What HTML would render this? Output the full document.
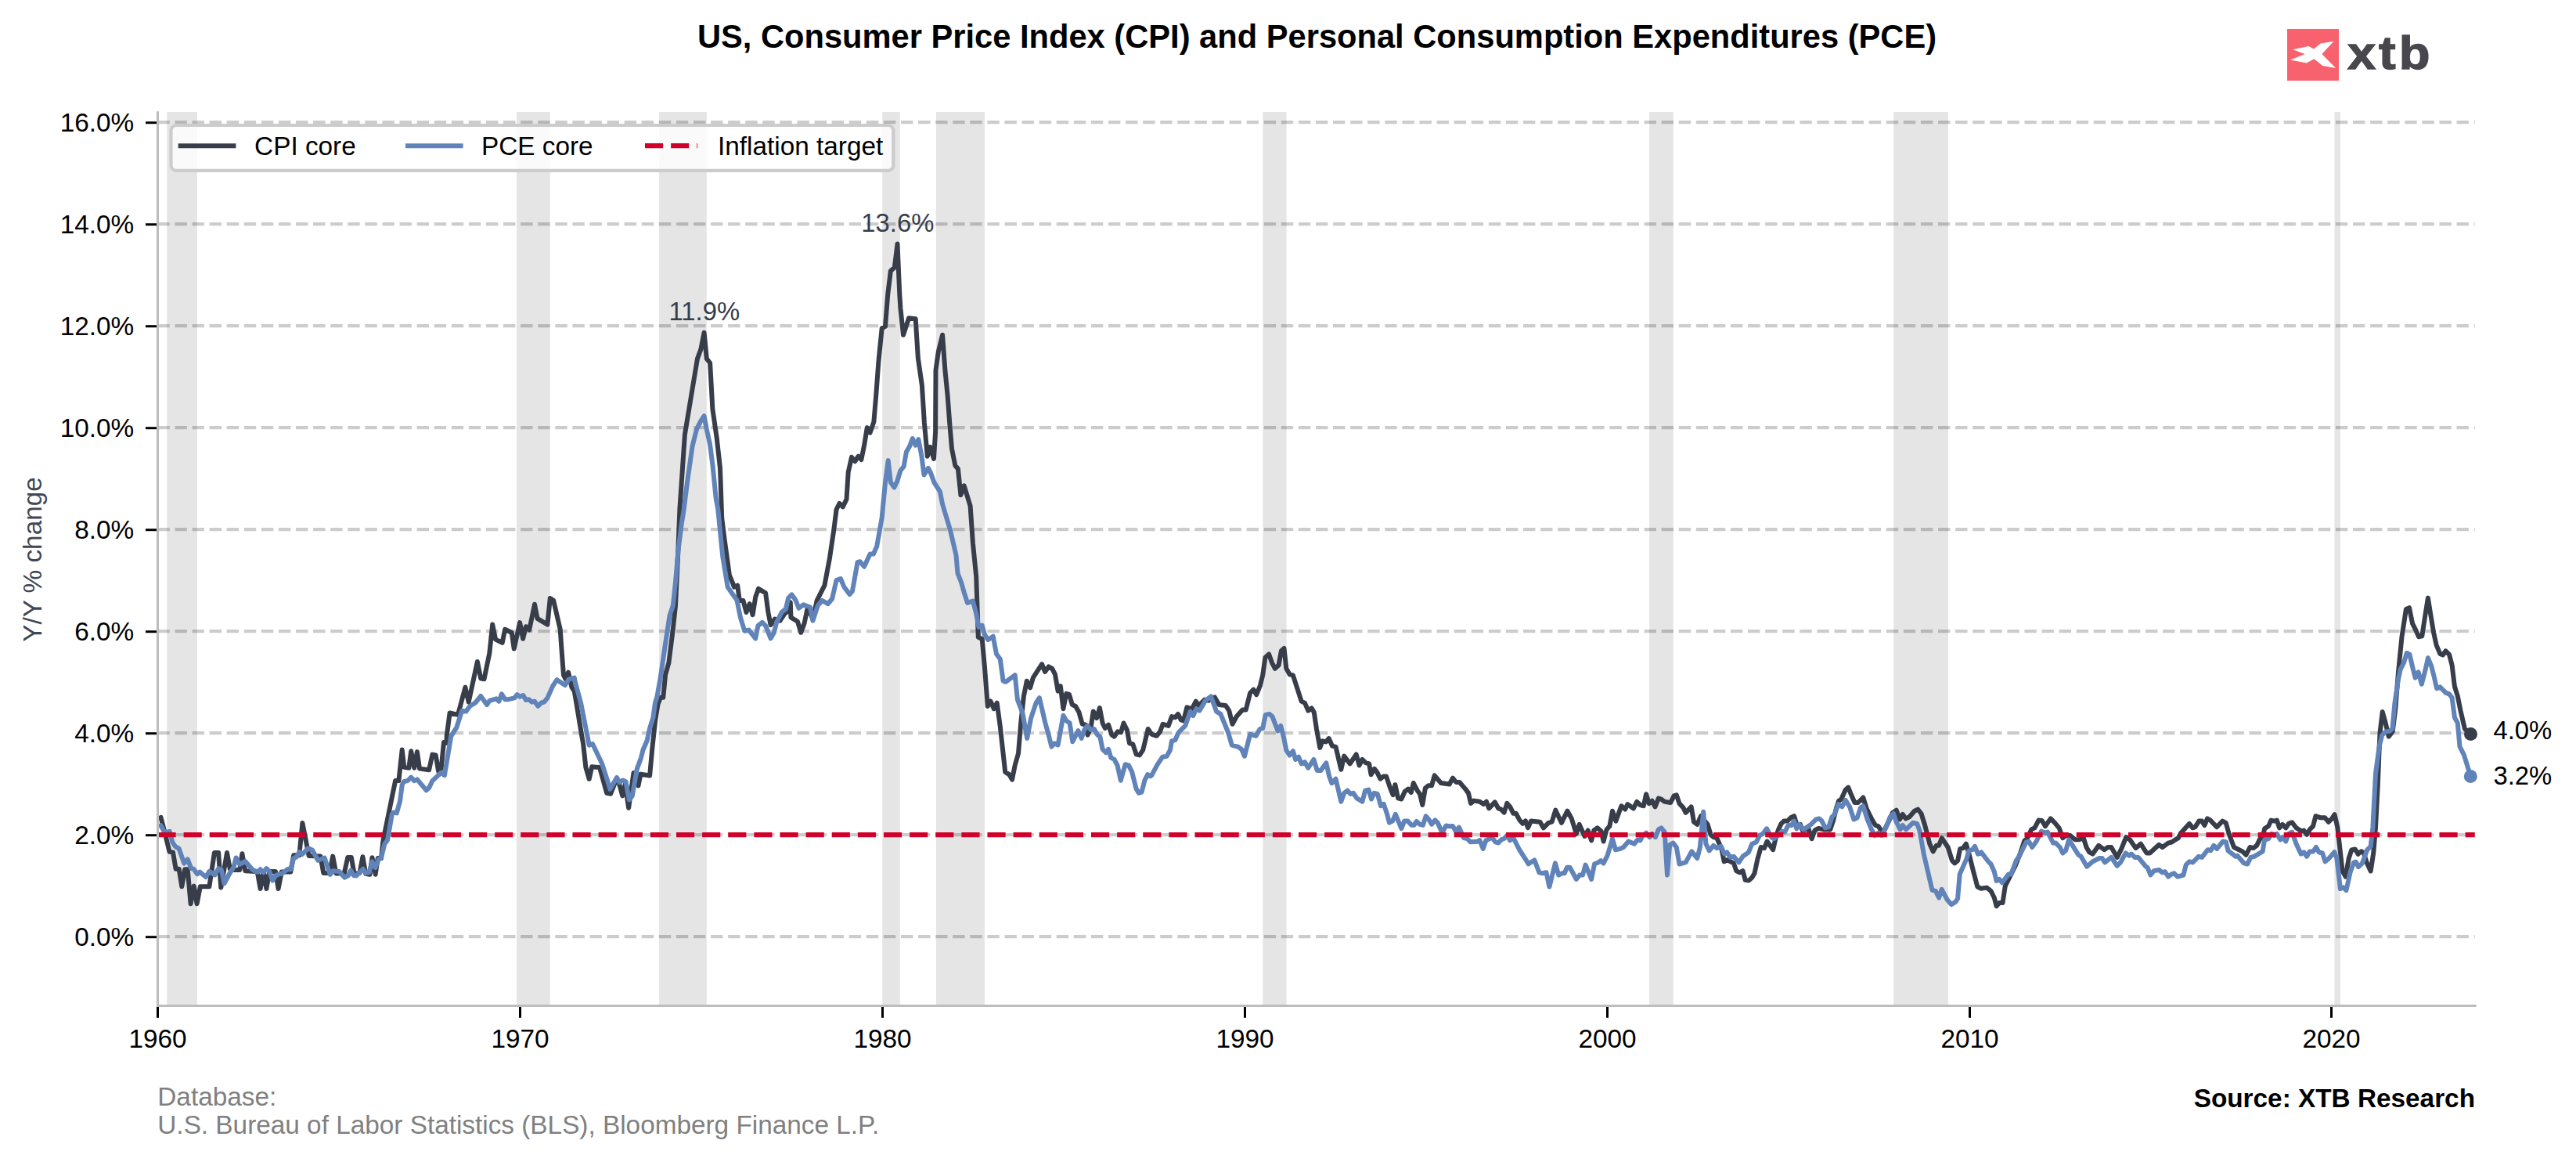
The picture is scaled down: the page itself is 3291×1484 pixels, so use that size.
<!DOCTYPE html>
<html><head><meta charset="utf-8"><title>US CPI and PCE</title>
<style>html,body{margin:0;padding:0;background:#fff}svg{display:block}</style></head>
<body>
<svg width="3291" height="1484" viewBox="0 0 3291 1484" font-family="&quot;Liberation Sans&quot;, Arial, sans-serif">
<rect width="3291" height="1484" fill="#fff"/>
<rect x="213.2" y="143" width="38.7" height="1141.5" fill="#e5e5e5"/>
<rect x="660.0" y="143" width="42.7" height="1141.5" fill="#e5e5e5"/>
<rect x="842.1" y="143" width="60.7" height="1141.5" fill="#e5e5e5"/>
<rect x="1127.2" y="143" width="22.6" height="1141.5" fill="#e5e5e5"/>
<rect x="1196.0" y="143" width="61.9" height="1141.5" fill="#e5e5e5"/>
<rect x="1613.4" y="143" width="30.2" height="1141.5" fill="#e5e5e5"/>
<rect x="2107.1" y="143" width="30.7" height="1141.5" fill="#e5e5e5"/>
<rect x="2419.2" y="143" width="69.7" height="1141.5" fill="#e5e5e5"/>
<rect x="2982.4" y="143" width="7.4" height="1141.5" fill="#e5e5e5"/>
<line x1="201.35" y1="1196.2" x2="3161.7" y2="1196.2" stroke="#000" stroke-opacity="0.2" stroke-width="4.17" stroke-dasharray="15.417 6.667"/>
<line x1="201.35" y1="1066.2" x2="3161.7" y2="1066.2" stroke="#000" stroke-opacity="0.2" stroke-width="4.17" stroke-dasharray="15.417 6.667"/>
<line x1="201.35" y1="936.2" x2="3161.7" y2="936.2" stroke="#000" stroke-opacity="0.2" stroke-width="4.17" stroke-dasharray="15.417 6.667"/>
<line x1="201.35" y1="806.2" x2="3161.7" y2="806.2" stroke="#000" stroke-opacity="0.2" stroke-width="4.17" stroke-dasharray="15.417 6.667"/>
<line x1="201.35" y1="676.2" x2="3161.7" y2="676.2" stroke="#000" stroke-opacity="0.2" stroke-width="4.17" stroke-dasharray="15.417 6.667"/>
<line x1="201.35" y1="546.2" x2="3161.7" y2="546.2" stroke="#000" stroke-opacity="0.2" stroke-width="4.17" stroke-dasharray="15.417 6.667"/>
<line x1="201.35" y1="416.2" x2="3161.7" y2="416.2" stroke="#000" stroke-opacity="0.2" stroke-width="4.17" stroke-dasharray="15.417 6.667"/>
<line x1="201.35" y1="286.2" x2="3161.7" y2="286.2" stroke="#000" stroke-opacity="0.2" stroke-width="4.17" stroke-dasharray="15.417 6.667"/>
<line x1="201.35" y1="156.2" x2="3161.7" y2="156.2" stroke="#000" stroke-opacity="0.2" stroke-width="4.17" stroke-dasharray="15.417 6.667"/>
<polyline points="205.5,1043.9 209.4,1058.7 213.2,1074.2 216.5,1087.8 221.0,1088.4 224.6,1109.7 228.7,1109.7 232.3,1132.3 236.2,1110.3 239.7,1110.3 243.6,1154.2 247.7,1131.6 251.6,1154.2 255.8,1132.3 267.4,1132.3 273.9,1089.0 279.1,1089.0 282.3,1133.6 290.0,1089.0 293.9,1110.3 297.8,1111.0 306.2,1111.0 309.4,1090.3 313.3,1112.3 328.7,1112.9 332.6,1134.9 336.5,1112.9 340.4,1134.9 344.2,1112.9 352.0,1112.9 355.6,1134.9 359.7,1113.6 371.3,1113.6 375.2,1092.3 382.3,1092.3 386.4,1051.0 394.6,1092.9 409.4,1093.6 413.3,1114.9 421.0,1114.9 425.2,1093.6 429.4,1115.5 439.7,1115.5 444.3,1094.9 448.8,1094.9 452.6,1116.2 459.5,1115.0 463.4,1094.3 467.2,1115.9 472.4,1116.7 475.5,1095.2 479.6,1116.7 482.7,1096.1 487.0,1096.1 489.6,1072.8 505.1,997.1 509.4,997.1 513.7,957.5 516.3,979.9 522.3,980.8 525.2,959.3 529.2,980.8 532.9,960.1 536.0,981.6 548.1,983.3 552.4,963.6 556.7,964.4 560.1,985.1 563.6,981.6 567.0,948.1 570.5,948.9 570.7,940.0 574.6,910.4 585.0,912.9 594.4,877.7 598.7,896.6 609.9,845.0 614.2,866.5 618.5,867.3 625.4,833.8 629.2,797.6 633.1,816.6 641.7,820.9 645.2,803.7 653.8,808.0 656.7,828.6 664.1,795.1 668.1,815.7 671.9,800.2 676.2,804.5 683.0,771.8 686.5,789.9 699.4,797.6 702.8,764.1 707.1,766.7 715.7,803.7 717.5,829.5 720.0,862.2 722.6,867.3 726.1,858.7 730.4,877.7 733.8,882.8 743.3,940.0 745.0,949.2 748.4,980.1 752.7,994.8 756.1,979.3 766.1,980.1 775.1,1012.8 780.2,1013.7 788.0,993.9 790.6,999.1 795.2,1016.3 798.8,1001.6 803.1,1031.8 809.5,987.0 815.5,1003.4 818.4,988.7 830.1,990.5 833.6,952.6 837.0,921.6 840.5,899.3 843.9,890.7 847.3,890.7 850.1,861.6 854.4,846.5 859.8,803.5 863.0,773.4 866.3,704.5 868.4,650.0 874.9,554.9 881.3,516.2 891.0,458.1 895.3,446.3 899.6,424.7 902.8,458.1 907.1,463.5 910.4,522.6 915.7,559.2 920.0,597.9 922.2,661.5 925.4,687.3 931.9,734.7 935.1,742.2 937.9,749.7 942.2,747.6 944.8,766.9 949.5,766.9 953.4,782.0 957.7,771.2 961.6,785.2 965.2,762.6 968.9,751.9 978.1,757.3 981.4,782.0 984.6,798.1 990.0,790.6 996.4,792.7 1002.9,783.1 1008.2,779.8 1009.8,769.1 1010.4,788.4 1019.0,793.8 1023.3,807.8 1027.6,796.0 1031.9,775.5 1038.4,790.6 1043.7,766.9 1053.4,747.6 1059.9,713.1 1065.3,676.6 1068.6,650.5 1072.5,642.9 1076.8,647.3 1081.5,637.6 1083.7,603.1 1088.0,583.8 1092.3,589.2 1096.6,582.7 1100.4,587.0 1104.1,568.7 1107.8,546.1 1111.6,552.6 1116.4,538.6 1119.2,505.1 1122.4,462.1 1126.7,419.1 1131.0,416.9 1134.2,376.1 1137.9,345.9 1142.8,341.6 1146.5,311.5 1149.3,376.1 1150.4,393.3 1154.0,427.7 1161.1,406.2 1169.7,407.3 1172.9,457.8 1177.9,492.2 1180.9,540.0 1184.8,582.7 1188.4,570.9 1193.0,585.9 1195.1,551.5 1195.5,472.9 1198.8,449.2 1204.1,427.7 1207.4,472.9 1210.6,505.1 1213.2,540.0 1216.0,573.0 1220.3,594.5 1223.9,598.8 1227.4,632.2 1231.7,620.4 1239.6,646.2 1242.9,693.5 1247.2,736.5 1249.8,813.8 1254.7,815.9 1258.0,852.5 1261.8,902.0 1265.5,895.5 1269.8,905.2 1273.7,897.7 1277.8,927.8 1284.2,985.9 1289.2,989.1 1293.0,995.6 1296.7,977.3 1301.0,962.2 1304.2,923.5 1307.9,889.1 1311.8,869.7 1316.1,878.3 1319.9,865.4 1331.1,848.2 1335.0,857.9 1339.7,851.4 1344.0,853.6 1347.9,861.1 1351.6,882.6 1354.8,876.2 1358.4,905.2 1362.3,885.9 1366.0,886.9 1369.8,899.8 1374.1,902.0 1378.4,909.5 1382.7,924.6 1387.1,925.7 1389.6,938.6 1393.5,930.0 1396.7,908.4 1401.0,917.1 1404.9,904.1 1408.6,923.5 1411.8,930.0 1416.1,925.7 1420.4,938.6 1423.6,940.7 1427.9,934.3 1432.2,935.3 1435.5,923.5 1439.8,932.1 1443.0,949.3 1447.3,950.4 1451.6,963.3 1455.9,964.4 1460.2,957.9 1466.7,931.0 1471.2,937.7 1477.6,939.8 1482.0,934.5 1485.6,924.8 1492.7,926.9 1497.0,915.1 1501.3,916.2 1505.0,911.9 1508.8,919.4 1512.1,920.5 1516.4,903.3 1522.8,905.4 1527.8,895.7 1531.4,901.1 1539.0,893.6 1544.3,894.7 1551.9,890.4 1557.3,900.0 1565.9,901.1 1570.2,907.6 1574.5,924.8 1579.8,915.1 1587.4,906.5 1591.7,906.5 1597.1,885.0 1601.4,880.7 1605.2,887.1 1610.0,875.3 1613.2,862.4 1616.4,839.8 1621.1,835.5 1625.0,846.3 1628.9,853.8 1633.6,849.5 1636.9,831.2 1640.5,828.0 1643.3,853.8 1647.6,861.3 1651.9,862.4 1662.7,895.7 1667.0,897.9 1671.3,907.6 1675.6,904.3 1678.8,909.7 1682.0,931.2 1686.3,954.9 1689.6,946.3 1693.9,947.4 1697.7,943.1 1702.0,952.7 1706.5,953.8 1713.3,982.8 1717.2,965.6 1724.7,975.3 1732.7,963.5 1736.6,977.5 1740.4,969.9 1744.7,974.2 1749.1,975.3 1751.6,989.3 1755.9,981.8 1759.2,986.1 1763.5,994.7 1767.8,991.4 1771.0,991.4 1775.7,1005.4 1779.6,1015.1 1782.4,1002.2 1786.1,1019.4 1790.4,1020.5 1794.7,1010.8 1799.0,1007.6 1802.8,1011.9 1805.8,1000.0 1810.8,1009.7 1814.0,1014.0 1817.3,1028.0 1820.9,1006.5 1824.8,1003.3 1829.1,1003.3 1832.7,990.4 1840.9,1000.0 1851.7,1001.5 1856.0,993.6 1860.3,999.0 1864.6,999.0 1872.1,1007.6 1876.0,1012.9 1879.0,1025.9 1882.9,1022.6 1890.4,1023.7 1895.3,1026.9 1899.0,1023.7 1902.2,1032.3 1909.8,1024.4 1914.1,1032.3 1917.3,1033.4 1921.6,1037.7 1925.3,1025.9 1929.1,1030.2 1933.4,1038.8 1936.7,1038.8 1941.4,1047.4 1945.3,1051.7 1948.9,1048.4 1952.1,1057.1 1956.0,1048.4 1967.5,1049.7 1971.8,1057.3 1978.3,1050.8 1982.6,1049.7 1987.3,1034.7 1994.9,1050.8 2002.4,1035.7 2007.8,1045.4 2013.8,1064.8 2017.7,1052.9 2024.5,1068.0 2028.8,1060.5 2033.1,1073.4 2036.4,1060.5 2040.7,1057.3 2045.6,1061.6 2048.6,1074.5 2052.5,1059.4 2056.4,1055.1 2060.0,1035.7 2064.3,1048.6 2071.4,1029.3 2076.2,1033.6 2079.4,1027.1 2086.9,1032.5 2091.2,1023.9 2095.5,1028.2 2099.8,1029.3 2103.1,1014.2 2106.7,1026.1 2110.6,1022.8 2114.5,1030.4 2118.8,1019.6 2122.4,1020.7 2126.7,1023.9 2134.3,1025.0 2138.6,1016.4 2141.8,1015.3 2145.5,1026.1 2150.4,1031.4 2153.6,1037.9 2160.7,1030.4 2164.0,1049.7 2168.3,1052.9 2173.0,1042.2 2177.3,1047.6 2181.6,1052.9 2185.5,1065.9 2189.1,1069.1 2193.4,1070.2 2196.7,1077.7 2199.9,1086.3 2202.7,1100.3 2207.0,1098.1 2210.6,1100.3 2214.9,1102.4 2218.2,1112.1 2222.5,1114.3 2226.5,1112.1 2229.7,1123.9 2234.0,1124.6 2238.3,1120.7 2241.5,1115.3 2245.4,1097.1 2249.7,1082.0 2254.0,1083.1 2257.6,1074.5 2265.2,1085.2 2268.4,1071.2 2271.6,1060.5 2275.5,1051.9 2279.2,1048.6 2283.5,1048.6 2287.8,1044.3 2292.1,1042.2 2295.7,1054.0 2300.0,1052.9 2302.8,1060.5 2310.4,1058.3 2314.7,1071.2 2318.5,1060.5 2323.3,1057.9 2329.7,1059.4 2338.3,1059.4 2342.2,1047.6 2345.9,1032.5 2349.1,1022.8 2352.3,1020.7 2357.7,1008.8 2361.3,1005.6 2365.2,1015.3 2369.5,1025.0 2373.8,1025.0 2380.3,1018.5 2384.6,1032.5 2387.8,1039.0 2392.1,1047.6 2396.0,1054.0 2399.6,1055.1 2403.9,1061.6 2407.2,1060.5 2413.6,1047.6 2417.9,1037.9 2422.7,1034.7 2427.0,1046.5 2430.8,1040.0 2434.7,1045.4 2439.4,1043.3 2445.9,1035.7 2450.2,1033.6 2454.5,1039.0 2459.2,1054.0 2465.3,1077.7 2469.6,1087.4 2473.9,1079.8 2477.1,1079.8 2480.7,1070.2 2488.6,1082.0 2494.0,1099.2 2497.2,1102.4 2501.1,1099.2 2504.1,1084.1 2508.0,1083.1 2511.8,1077.7 2515.5,1090.6 2520.9,1112.1 2526.3,1132.5 2530.6,1134.7 2538.1,1133.6 2543.5,1137.9 2547.8,1146.5 2550.6,1157.3 2554.2,1153.0 2558.5,1153.0 2561.8,1131.5 2568.2,1118.6 2574.7,1105.7 2581.1,1089.5 2586.5,1073.4 2589.7,1071.2 2595.1,1059.4 2599.4,1057.3 2604.4,1047.6 2608.7,1048.0 2613.0,1055.1 2619.8,1045.4 2625.2,1050.8 2630.6,1057.3 2635.3,1070.2 2639.2,1066.9 2644.6,1066.9 2651.0,1072.3 2656.4,1072.3 2661.8,1070.2 2665.5,1082.0 2669.3,1088.4 2673.6,1090.6 2681.2,1079.8 2688.3,1085.2 2693.0,1082.0 2697.3,1082.0 2704.8,1094.9 2710.2,1084.1 2716.2,1069.1 2721.0,1072.3 2728.5,1083.1 2734.9,1077.7 2742.5,1089.5 2746.5,1089.5 2758.3,1078.8 2762.6,1082.0 2770.1,1076.6 2774.4,1075.5 2777.6,1073.4 2783.0,1070.2 2786.3,1063.7 2797.0,1051.9 2801.3,1057.3 2804.5,1056.2 2809.3,1048.6 2813.1,1048.6 2816.4,1054.0 2820.0,1045.4 2823.9,1047.6 2832.1,1056.2 2839.4,1048.6 2843.7,1050.8 2847.6,1064.8 2854.0,1082.0 2860.5,1085.2 2864.8,1087.4 2869.5,1091.7 2874.5,1082.0 2878.8,1083.1 2883.1,1079.8 2887.4,1071.2 2890.6,1069.1 2893.2,1058.3 2898.1,1055.1 2901.4,1047.6 2905.7,1048.6 2908.9,1047.6 2912.1,1057.3 2916.0,1052.9 2920.3,1057.3 2923.9,1051.9 2928.2,1050.2 2933.6,1057.3 2940.1,1061.6 2943.3,1060.5 2947.0,1065.9 2950.8,1059.4 2955.1,1055.1 2958.4,1042.2 2964.8,1044.3 2970.2,1044.3 2974.9,1049.7 2979.0,1045.6 2982.6,1040.2 2986.3,1056.5 2989.0,1080.0 2992.6,1112.5 2996.7,1119.7 3000.7,1096.2 3004.3,1085.4 3008.8,1084.5 3012.5,1090.8 3016.6,1087.2 3019.7,1089.0 3023.3,1100.7 3028.7,1112.5 3032.3,1089.0 3035.0,1056.5 3037.8,1002.3 3039.6,957.1 3040.5,936.1 3043.7,909.0 3047.7,923.4 3051.7,940.6 3056.7,934.3 3060.3,905.4 3064.0,858.4 3068.5,813.2 3073.9,778.0 3078.0,776.2 3082.0,796.1 3085.6,803.3 3090.1,813.2 3094.3,812.3 3098.3,786.1 3101.9,763.6 3105.5,786.1 3109.1,807.8 3112.7,824.1 3117.3,834.9 3120.9,836.4 3124.5,831.3 3129.0,835.8 3132.6,849.4 3135.9,876.5 3139.8,889.1 3143.4,907.2 3148.9,930.7 3156.5,937.4" fill="none" stroke="#383d4a" stroke-width="6.0" stroke-linejoin="round" stroke-linecap="round"/>
<polyline points="205.5,1054.2 209.4,1061.3 212.6,1063.2 216.7,1061.9 220.3,1075.5 223.6,1080.7 228.7,1083.9 235.2,1102.6 239.7,1097.4 244.2,1109.1 247.4,1109.7 252.0,1116.2 255.2,1113.6 262.9,1120.0 267.4,1112.9 274.5,1117.4 279.1,1109.1 282.9,1111.0 286.5,1128.4 293.3,1115.5 298.4,1107.8 301.6,1095.5 306.2,1103.9 313.3,1100.0 322.9,1111.0 329.4,1113.6 332.6,1110.3 336.5,1114.2 340.4,1109.1 344.2,1112.9 348.1,1124.5 352.6,1118.1 356.5,1116.2 360.4,1115.5 368.1,1109.7 371.3,1110.3 375.2,1096.1 379.1,1094.2 382.6,1087.8 386.2,1091.0 393.9,1083.2 399.1,1085.8 406.2,1098.7 414.6,1095.5 421.7,1116.8 425.5,1112.3 433.3,1112.9 440.4,1120.7 444.9,1118.1 448.1,1111.6 452.0,1118.1 455.2,1118.4 463.8,1109.8 467.2,1115.0 471.5,1114.1 475.5,1100.4 479.6,1108.1 483.6,1097.8 487.0,1095.2 491.3,1078.0 495.1,1072.8 500.8,1040.1 503.0,1037.6 506.8,1038.4 511.1,1022.9 513.7,1002.3 516.3,998.0 520.6,997.1 525.2,992.8 529.2,997.1 532.9,995.4 544.6,1009.2 548.4,1005.7 552.4,997.1 563.6,986.8 567.9,990.2 570.5,974.7 576.3,940.0 583.2,929.3 590.1,907.8 595.3,908.6 600.4,901.8 607.3,897.5 614.2,888.9 622.0,900.0 625.4,894.9 634.0,892.3 637.4,895.7 640.9,886.3 645.2,893.2 649.5,893.2 657.2,891.4 660.7,887.1 664.1,889.7 668.4,888.0 671.9,894.0 675.3,893.2 679.6,896.6 683.0,895.7 687.3,901.8 691.6,897.5 695.1,896.6 699.4,891.4 706.3,875.9 711.4,868.2 721.8,875.1 726.9,867.3 733.8,865.6 734.6,870.0 742.4,899.3 752.7,951.7 757.0,950.0 769.0,975.0 775.1,993.9 779.4,1007.7 788.0,993.0 791.4,999.1 795.7,996.5 799.5,998.2 803.8,1021.4 807.8,1016.3 813.8,981.9 818.9,968.1 821.5,957.8 826.7,945.7 830.1,930.2 834.4,916.5 837.0,897.5 839.4,890.0 843.7,865.9 849.0,829.3 855.5,786.3 859.8,773.4 863.0,743.3 866.3,704.5 870.6,670.1 873.8,650.0 878.1,615.1 884.5,570.0 889.9,548.4 895.3,537.7 899.6,531.2 902.8,548.4 907.1,567.8 910.4,593.6 914.7,636.7 917.2,650.0 919.0,668.0 923.3,711.0 929.7,749.7 941.6,766.9 945.9,788.4 951.2,805.7 956.6,804.6 965.2,815.3 968.4,799.2 973.8,794.9 978.1,799.2 984.6,815.3 988.9,807.8 992.1,794.9 998.6,782.0 1003.9,777.7 1007.2,763.7 1011.5,759.4 1016.2,765.9 1020.5,776.6 1026.5,772.3 1035.1,775.5 1038.4,792.7 1044.8,773.4 1050.2,766.9 1057.7,771.2 1063.1,764.8 1068.5,741.1 1073.9,739.0 1078.3,749.4 1085.4,759.1 1089.0,754.8 1095.5,718.2 1098.7,717.2 1104.1,723.6 1111.6,707.5 1115.9,707.5 1120.2,697.8 1126.7,661.2 1131.0,616.1 1134.7,588.1 1137.9,616.1 1142.4,622.5 1146.1,615.0 1150.4,601.0 1154.7,595.6 1157.9,577.3 1162.2,569.8 1165.8,560.1 1169.7,568.7 1173.4,561.2 1177.3,581.6 1180.5,606.4 1185.9,597.8 1189.1,604.2 1193.4,616.1 1200.9,627.9 1204.1,644.0 1213.8,676.3 1221.4,708.6 1223.5,732.2 1227.8,743.0 1232.1,758.0 1236.0,769.9 1242.9,767.5 1247.2,783.7 1250.4,800.9 1254.7,798.7 1258.0,810.6 1262.3,817.0 1268.7,812.7 1273.0,835.3 1277.8,841.8 1281.6,869.7 1284.9,870.8 1296.7,862.2 1299.9,893.4 1306.4,910.6 1312.2,942.9 1317.1,917.1 1323.6,897.7 1327.9,891.2 1335.4,923.5 1339.7,938.6 1343.4,953.6 1347.3,949.3 1351.6,951.5 1358.4,913.8 1362.3,920.3 1366.6,923.5 1370.3,947.2 1377.4,933.2 1381.7,942.9 1385.3,932.1 1389.2,926.7 1393.5,932.1 1397.8,931.0 1402.1,938.6 1405.3,940.7 1408.6,956.9 1412.9,961.2 1416.1,956.9 1419.3,967.6 1423.6,969.8 1427.5,977.3 1431.8,996.7 1437.6,976.2 1441.9,977.3 1446.2,985.9 1451.6,1007.4 1454.8,1012.8 1458.5,1011.7 1462.4,996.7 1466.2,989.1 1469.9,991.3 1471.2,990.4 1478.7,976.4 1485.2,966.7 1490.6,965.7 1494.9,958.1 1497.0,946.3 1501.3,945.2 1505.6,935.5 1514.2,926.9 1520.7,908.6 1524.3,914.0 1528.2,905.4 1532.5,907.6 1540.0,894.7 1547.1,889.3 1554.0,908.6 1559.4,911.9 1569.1,935.5 1573.8,951.7 1582.0,953.8 1586.3,957.1 1590.0,965.7 1597.1,937.7 1604.6,939.8 1609.5,931.2 1613.2,930.2 1616.8,912.9 1621.8,911.9 1625.5,915.1 1632.5,933.4 1636.2,926.9 1640.1,942.0 1643.3,958.1 1647.6,964.6 1651.9,959.2 1655.1,970.0 1659.0,966.7 1662.7,975.3 1667.0,973.2 1671.3,980.7 1678.4,970.0 1682.7,983.9 1687.4,983.9 1694.3,974.3 1698.2,991.5 1701.4,1000.1 1706.5,994.7 1713.3,1023.7 1717.2,1012.9 1721.5,1009.7 1725.4,1014.0 1729.0,1012.9 1733.3,1019.4 1740.4,1023.7 1744.1,1009.7 1748.4,1008.6 1752.1,1020.5 1755.5,1012.9 1759.8,1014.0 1764.1,1029.1 1767.8,1026.9 1772.1,1039.8 1774.9,1050.6 1779.2,1048.4 1782.8,1039.8 1790.4,1058.1 1794.2,1048.4 1798.5,1048.4 1803.3,1053.8 1806.5,1053.8 1809.7,1048.9 1813.6,1052.7 1817.9,1053.8 1821.6,1042.4 1825.2,1046.3 1829.1,1052.7 1833.4,1047.4 1836.6,1050.6 1842.4,1063.5 1847.4,1054.5 1851.7,1055.3 1856.0,1054.9 1860.3,1062.4 1863.9,1056.6 1870.0,1070.0 1874.3,1071.0 1878.6,1075.3 1887.2,1074.7 1890.4,1073.2 1894.7,1083.9 1898.4,1073.2 1903.3,1071.0 1906.5,1070.0 1910.4,1075.3 1914.1,1076.4 1918.4,1072.1 1921.6,1071.0 1925.5,1066.7 1929.1,1073.2 1933.4,1070.0 1941.0,1085.0 1952.8,1103.3 1960.3,1098.4 1966.5,1114.3 1970.8,1115.3 1975.5,1114.3 1979.4,1132.5 1986.9,1102.4 1991.2,1117.5 1995.5,1115.3 1998.7,1115.3 2002.0,1107.8 2005.6,1107.8 2013.8,1122.9 2018.1,1117.5 2022.0,1117.5 2025.6,1104.6 2033.1,1122.9 2037.0,1103.5 2041.8,1101.4 2045.0,1099.2 2048.6,1102.4 2053.6,1092.7 2060.0,1071.2 2063.9,1085.2 2069.7,1084.1 2074.0,1082.0 2080.5,1074.5 2088.0,1077.7 2092.3,1072.3 2095.5,1073.4 2098.8,1066.9 2103.1,1063.7 2107.4,1069.1 2110.6,1064.8 2114.9,1069.1 2118.8,1059.4 2122.4,1057.3 2126.7,1062.6 2130.0,1117.5 2133.2,1078.8 2137.5,1076.6 2141.8,1082.0 2145.5,1103.5 2153.6,1101.4 2161.2,1087.4 2168.3,1096.0 2171.9,1082.0 2176.2,1036.8 2179.4,1077.7 2183.7,1086.3 2189.1,1079.8 2193.4,1083.1 2198.8,1080.9 2203.1,1090.6 2206.3,1088.4 2210.6,1094.9 2214.9,1093.8 2221.4,1101.4 2226.5,1093.8 2234.0,1088.4 2238.3,1077.7 2243.7,1075.5 2248.0,1066.9 2252.3,1064.8 2257.0,1058.3 2263.0,1069.1 2266.3,1071.2 2272.7,1065.9 2276.4,1061.6 2280.2,1062.6 2284.5,1054.0 2288.8,1054.0 2292.1,1048.6 2295.3,1058.3 2298.5,1052.9 2303.9,1059.4 2313.6,1052.9 2320.0,1046.5 2324.3,1045.4 2327.6,1048.6 2331.9,1057.3 2336.2,1056.2 2340.5,1043.3 2343.7,1040.0 2348.7,1027.1 2353.4,1030.4 2357.7,1021.8 2363.1,1030.4 2368.4,1046.5 2372.7,1044.3 2377.1,1031.4 2380.3,1029.3 2385.7,1046.5 2391.0,1059.4 2395.3,1066.9 2399.6,1063.7 2403.9,1066.9 2409.3,1057.3 2414.7,1043.3 2419.0,1039.0 2422.2,1048.6 2427.6,1059.4 2430.8,1054.0 2435.1,1059.4 2443.7,1050.8 2449.1,1051.9 2452.4,1060.5 2457.7,1090.6 2468.5,1136.9 2472.8,1137.9 2477.1,1146.5 2480.7,1135.8 2487.5,1148.7 2492.9,1155.1 2498.3,1151.9 2501.1,1147.6 2503.7,1116.4 2512.3,1097.1 2515.5,1086.3 2519.8,1085.2 2523.0,1080.9 2526.9,1090.6 2531.2,1088.4 2540.2,1100.3 2543.5,1103.5 2547.8,1113.2 2550.6,1125.0 2554.2,1122.9 2557.9,1127.2 2566.1,1116.4 2569.3,1116.4 2575.7,1099.2 2579.0,1094.9 2588.6,1075.5 2591.9,1074.5 2596.2,1082.0 2601.6,1074.5 2608.0,1061.6 2612.3,1063.7 2616.0,1062.6 2623.1,1076.6 2626.3,1076.6 2631.7,1082.0 2635.3,1089.5 2639.2,1086.3 2643.1,1072.3 2655.3,1091.7 2658.6,1093.8 2666.1,1106.7 2673.6,1100.3 2682.2,1096.0 2685.5,1096.0 2689.1,1101.4 2697.3,1094.9 2704.8,1105.7 2709.1,1101.4 2715.6,1089.5 2719.9,1092.7 2723.1,1090.6 2727.4,1094.9 2731.7,1094.9 2741.4,1106.7 2743.5,1107.8 2747.5,1117.5 2751.8,1112.1 2758.3,1111.0 2762.6,1114.3 2765.8,1113.2 2770.1,1119.6 2774.4,1116.4 2777.6,1115.3 2782.0,1119.6 2789.5,1117.5 2792.7,1104.6 2797.0,1100.3 2801.3,1101.4 2808.8,1093.8 2813.1,1094.9 2820.7,1085.2 2824.3,1086.3 2828.2,1079.8 2832.1,1084.1 2840.0,1074.5 2843.7,1075.1 2846.5,1086.3 2856.2,1093.8 2858.3,1092.7 2866.9,1102.4 2871.2,1103.5 2875.5,1094.9 2879.8,1093.8 2890.6,1087.4 2893.2,1072.3 2898.1,1071.2 2902.4,1064.8 2905.7,1066.9 2908.9,1064.8 2913.2,1072.3 2916.4,1069.1 2920.3,1074.5 2923.9,1064.8 2928.2,1062.6 2933.6,1077.7 2939.6,1090.6 2943.3,1088.4 2947.0,1093.8 2950.8,1087.4 2955.1,1087.4 2959.0,1082.0 2962.7,1088.4 2967.0,1089.5 2970.6,1100.3 2975.4,1096.2 2982.3,1088.1 2985.4,1096.2 2989.9,1135.1 2993.5,1133.3 2997.5,1136.9 3002.5,1114.3 3007.0,1101.6 3009.7,1100.7 3013.0,1107.1 3017.9,1102.5 3024.2,1085.4 3028.7,1080.9 3031.4,1056.5 3035.0,987.8 3039.6,953.5 3043.2,939.0 3047.7,934.5 3053.1,933.6 3056.4,930.7 3059.4,898.2 3064.0,867.4 3066.7,854.8 3071.2,845.8 3074.8,834.0 3078.4,835.8 3082.0,851.2 3085.6,865.6 3089.6,858.4 3093.8,873.8 3098.3,856.6 3101.9,840.3 3106.4,851.2 3110.0,865.6 3113.1,879.2 3117.3,877.4 3124.5,884.6 3129.0,886.4 3132.6,890.9 3135.9,916.2 3139.8,923.4 3142.5,953.5 3148.0,964.3 3156.3,991.4" fill="none" stroke="#6083b9" stroke-width="6.0" stroke-linejoin="round" stroke-linecap="round"/>
<line x1="201.5" y1="1066.2" x2="3161.7" y2="1066.2" stroke="#d1002a" stroke-width="6.2" stroke-dasharray="23.125 10"/>
<circle cx="3156.5" cy="937.4" r="8.5" fill="#383d4a"/>
<circle cx="3156.3" cy="991.4" r="8.5" fill="#6083b9"/>
<line x1="201.5" y1="142.2" x2="201.5" y2="1285.9" stroke="#bdbdbd" stroke-width="3.0"/>
<line x1="200.1" y1="1284.5" x2="3163.7" y2="1284.5" stroke="#bdbdbd" stroke-width="3.0"/>
<line x1="186.0" y1="1196.7" x2="200.0" y2="1196.7" stroke="#000" stroke-width="3.0"/>
<text x="171.2" y="1208.3" font-size="33.33" text-anchor="end" fill="#000">0.0%</text>
<line x1="186.0" y1="1066.7" x2="200.0" y2="1066.7" stroke="#000" stroke-width="3.0"/>
<text x="171.2" y="1078.3" font-size="33.33" text-anchor="end" fill="#000">2.0%</text>
<line x1="186.0" y1="936.7" x2="200.0" y2="936.7" stroke="#000" stroke-width="3.0"/>
<text x="171.2" y="948.3" font-size="33.33" text-anchor="end" fill="#000">4.0%</text>
<line x1="186.0" y1="806.7" x2="200.0" y2="806.7" stroke="#000" stroke-width="3.0"/>
<text x="171.2" y="818.3" font-size="33.33" text-anchor="end" fill="#000">6.0%</text>
<line x1="186.0" y1="676.7" x2="200.0" y2="676.7" stroke="#000" stroke-width="3.0"/>
<text x="171.2" y="688.3" font-size="33.33" text-anchor="end" fill="#000">8.0%</text>
<line x1="186.0" y1="546.7" x2="200.0" y2="546.7" stroke="#000" stroke-width="3.0"/>
<text x="171.2" y="558.3" font-size="33.33" text-anchor="end" fill="#000">10.0%</text>
<line x1="186.0" y1="416.7" x2="200.0" y2="416.7" stroke="#000" stroke-width="3.0"/>
<text x="171.2" y="428.3" font-size="33.33" text-anchor="end" fill="#000">12.0%</text>
<line x1="186.0" y1="286.7" x2="200.0" y2="286.7" stroke="#000" stroke-width="3.0"/>
<text x="171.2" y="298.3" font-size="33.33" text-anchor="end" fill="#000">14.0%</text>
<line x1="186.0" y1="156.7" x2="200.0" y2="156.7" stroke="#000" stroke-width="3.0"/>
<text x="171.2" y="168.3" font-size="33.33" text-anchor="end" fill="#000">16.0%</text>
<line x1="201.5" y1="1286.0" x2="201.5" y2="1299.8" stroke="#000" stroke-width="3.0"/>
<text x="201.5" y="1337.8" font-size="33.33" text-anchor="middle" fill="#000">1960</text>
<line x1="664.5" y1="1286.0" x2="664.5" y2="1299.8" stroke="#000" stroke-width="3.0"/>
<text x="664.5" y="1337.8" font-size="33.33" text-anchor="middle" fill="#000">1970</text>
<line x1="1127.5" y1="1286.0" x2="1127.5" y2="1299.8" stroke="#000" stroke-width="3.0"/>
<text x="1127.5" y="1337.8" font-size="33.33" text-anchor="middle" fill="#000">1980</text>
<line x1="1590.5" y1="1286.0" x2="1590.5" y2="1299.8" stroke="#000" stroke-width="3.0"/>
<text x="1590.5" y="1337.8" font-size="33.33" text-anchor="middle" fill="#000">1990</text>
<line x1="2053.5" y1="1286.0" x2="2053.5" y2="1299.8" stroke="#000" stroke-width="3.0"/>
<text x="2053.5" y="1337.8" font-size="33.33" text-anchor="middle" fill="#000">2000</text>
<line x1="2516.5" y1="1286.0" x2="2516.5" y2="1299.8" stroke="#000" stroke-width="3.0"/>
<text x="2516.5" y="1337.8" font-size="33.33" text-anchor="middle" fill="#000">2010</text>
<line x1="2978.5" y1="1286.0" x2="2978.5" y2="1299.8" stroke="#000" stroke-width="3.0"/>
<text x="2978.5" y="1337.8" font-size="33.33" text-anchor="middle" fill="#000">2020</text>
<text transform="translate(52.7,714.5) rotate(-90)" font-size="33.33" text-anchor="middle" fill="#414755">Y/Y % change</text>
<text x="1682.5" y="60.9" font-size="41.67" font-weight="bold" text-anchor="middle" fill="#000">US, Consumer Price Index (CPI) and Personal Consumption Expenditures (PCE)</text>
<text x="899.8" y="408.8" font-size="32.8" text-anchor="middle" fill="#383d4a">11.9%</text>
<text x="1146.8" y="296.0" font-size="32.8" text-anchor="middle" fill="#383d4a">13.6%</text>
<text x="3185.4" y="943.8" font-size="32.8" fill="#000">4.0%</text>
<text x="3185.4" y="1001.5" font-size="32.8" fill="#000">3.2%</text>
<rect x="218.5" y="160.0" width="922.8" height="57.8" rx="6.5" ry="6.5" fill="#fff" fill-opacity="0.8" stroke="#cccccc" stroke-width="4.17"/>
<line x1="227.7" y1="186.3" x2="301.4" y2="186.3" stroke="#383d4a" stroke-width="6.0"/>
<text x="325.1" y="198.1" font-size="33.33" fill="#000">CPI core</text>
<line x1="518" y1="186.3" x2="591.6" y2="186.3" stroke="#6083b9" stroke-width="6.0"/>
<text x="615.0" y="198.1" font-size="33.33" fill="#000">PCE core</text>
<line x1="824.0" y1="186.1" x2="891.1" y2="186.1" stroke="#d1002a" stroke-width="6.2" stroke-dasharray="23.125 10"/>
<text x="917.0" y="198.1" font-size="33.33" fill="#000">Inflation target</text>
<text x="201.3" y="1411.8" font-size="33.33" fill="#808080">Database:</text>
<text x="201.3" y="1448.4" font-size="33.33" fill="#808080">U.S. Bureau of Labor Statistics (BLS), Bloomberg Finance L.P.</text>
<text x="3162" y="1413.6" font-size="33.33" font-weight="bold" text-anchor="end" fill="#000">Source: XTB Research</text>
<rect x="2922" y="37" width="66" height="66" fill="#f7626e"/>
<polygon fill="#fff" points="2929.1,63.3 2949.3,59.1 2956.1,62.5 2964.7,55.6 2981.5,52.7 2966.4,69 2984.1,87 2967.3,83.9 2956.5,75.3 2946.7,80.5 2926.2,76.5 2944.7,69"/>
<text transform="translate(2999.0,87.8) scale(1.085,1)" font-size="60" font-weight="bold" fill="#48474d" stroke="#48474d" stroke-width="1.3" letter-spacing="3.6">xtb</text>
</svg>
</body></html>
